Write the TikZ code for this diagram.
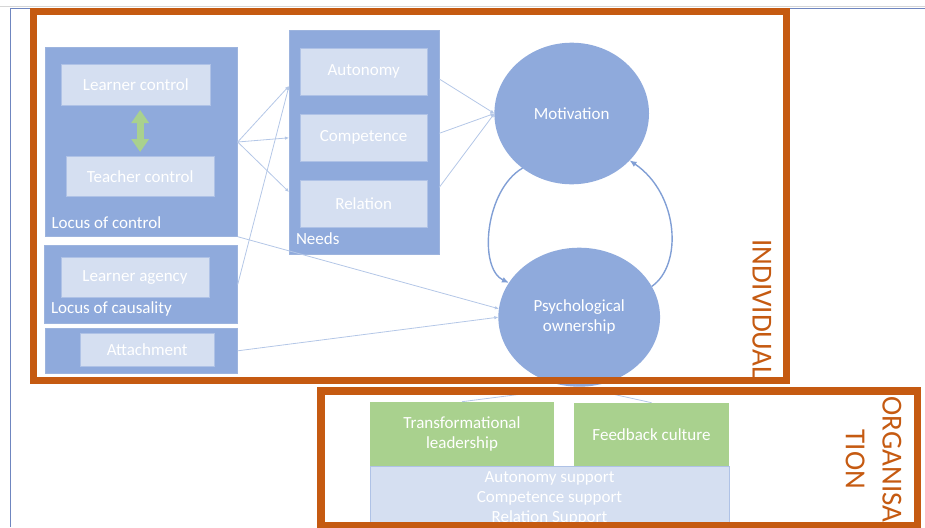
\documentclass[tikz,border=0pt]{standalone}
\usepackage{fontspec}
\setmainfont{Carlito}
\usetikzlibrary{arrows.meta,shapes.geometric}
\definecolor{orangeframe}{HTML}{C55A11}
\definecolor{boxblue}{HTML}{8FAADC}
\definecolor{boxedge}{HTML}{9DB4DE}
\definecolor{innerfill}{HTML}{D5DFF1}
\definecolor{inneredge}{HTML}{AFC2E6}
\definecolor{leafgreen}{HTML}{A9D18E}
\definecolor{linkblue}{HTML}{B4C7E7}
\definecolor{arcblue}{HTML}{819FD5}
\definecolor{guidegray}{HTML}{D6D6D6}
\definecolor{guideblue}{HTML}{6F86C0}

\begin{document}
\begin{tikzpicture}[x=1pt,y=-1pt,
  every node/.style={inner sep=0pt,outer sep=0pt},
  txt/.style={font=\fontsize{17}{20}\selectfont,text=white},
  outerbox/.style={rectangle,fill=boxblue,draw=boxedge,line width=0.8pt},
  innerbox/.style={rectangle,fill=innerfill,draw=inneredge,line width=0.8pt,txt},
  greenbox/.style={rectangle,fill=leafgreen,txt,align=center},
  bubble/.style={ellipse,fill=boxblue,txt,align=center},
  link/.style={draw=linkblue,line width=0.8pt,-{Latex[length=4pt,width=3.5pt]}},
  cycleline/.style={draw=arcblue,line width=1.4pt,-{Latex[length=7pt,width=6pt]}},
  groupframe/.style={draw=orangeframe,line width=7.5pt},
  framelabel/.style={text=orangeframe,font=\fontsize{29}{36.7}\selectfont,rotate=-90,align=center}
]
\useasboundingbox (0,0) rectangle (925,527);
\clip (0,0) rectangle (925,527);

% page guides
\draw[guidegray,line width=1.2pt] (0,6.5) -- (925,6.5);
\draw[guideblue,line width=1pt] (10,527) -- (10,8.5) -- (925,8.5);

% individual level: antecedents
\node[outerbox,minimum width=192.7pt,minimum height=189.4pt] (lc) at (141.35,142) {};
\node[innerbox,minimum width=148.3pt,minimum height=40.7pt] (lctl) at (135.85,84.65) {Learner control};
\node[innerbox,minimum width=148.3pt,minimum height=39.3pt] (tctl) at (140.15,176.35) {Teacher control};
\node[txt,anchor=west] (lclabel) at (51.5,222.7) {Locus of control};
\draw[leafgreen,line width=7pt,{Triangle[length=13pt,width=17pt]}-{Triangle[length=13pt,width=17pt]},shorten <=5pt,shorten >=4.7pt] (lctl.south -| tctl.north) -- (tctl.north);

\node[outerbox,minimum width=193.2pt,minimum height=77.6pt] (lcaus) at (141.1,284.5) {};
\node[innerbox,minimum width=148pt,minimum height=40.4pt] (agency) at (135,277.5) {Learner agency};
\node[txt,anchor=west] (lcauslabel) at (51,309.3) {Locus of causality};

\node[outerbox,minimum width=192.7pt,minimum height=45pt] (att) at (141.35,350.8) {};
\node[innerbox,minimum width=134.3pt,minimum height=33.4pt] (attin) at (147.15,350) {Attachment};

% needs
\node[outerbox,minimum width=150.3pt,minimum height=224pt] (needs) at (364.15,142) {};
\node[innerbox,minimum width=126.7pt,minimum height=46.7pt] (autonomy) at (363.65,71.65) {Autonomy};
\node[innerbox,minimum width=126.7pt,minimum height=47pt] (competence) at (363.65,137.8) {Competence};
\node[innerbox,minimum width=126.7pt,minimum height=47.4pt] (relation) at (363.65,204) {Relation};
\node[txt,anchor=west] (needslabel) at (296,239) {Needs};

% outcomes
\node[bubble,minimum width=154.6pt,minimum height=141.6pt] (mot) at (571.7,113.5) {Motivation};
\node[bubble,minimum width=161.7pt,minimum height=139pt] (psy) at (579.2,317.2) {Psychological\\ownership};

% organisation level
\node[greenbox,minimum width=184pt,minimum height=64.3pt] (tl) at (462,433.85) {Transformational\\leadership};
\node[greenbox,minimum width=155pt,minimum height=63.3pt] (fb) at (651.5,434.35) {Feedback culture};
\node[innerbox,align=center,minimum width=359pt,minimum height=64pt] (sup) at (549.5,498) {Autonomy support\\Competence support\\Relation Support};

% ports on the needs box
\coordinate (nin1) at (289,86);
\coordinate (nin3) at (289,192);
\coordinate (nout1) at (439.3,79);
\coordinate (nout2) at (439.3,133.3);
\coordinate (nout3) at (439.3,187.3);

% connectors
\draw[link] (lc.east) -- (nin1);
\draw[link] (lc.east) -- (needs.west |- competence);
\draw[link] (lc.east) -- (nin3);
\draw[link] (lcaus.east) -- (nin1);
\draw[link] (lc.south east) -- (psy.174);
\draw[link] (att.east) -- (psy.west);
\foreach \o in {nout1,nout2,nout3} \draw[link] (\o) -- (mot.west);
\draw[link] (tl.north) -- (psy.south);
\draw[link] (fb.north) -- (psy.south);

% reciprocal loop between motivation and ownership
\draw[cycleline] (mot.228) .. controls (485,190) and (478,268) .. (psy.154);
\draw[cycleline] (psy.23) .. controls (683,265) and (679,194) .. (mot.321);

% level frames
\draw[groupframe] (33.5,11.5) rectangle (786.5,380.5);
\draw[groupframe] (321,391) rectangle (917.5,526);
\node[framelabel] (indlabel) at (761.7,309) {INDIVIDUAL};
\node[framelabel] (orglabel) at (873.5,459.5) {ORGANISA\\TION};
\end{tikzpicture}
\end{document}
